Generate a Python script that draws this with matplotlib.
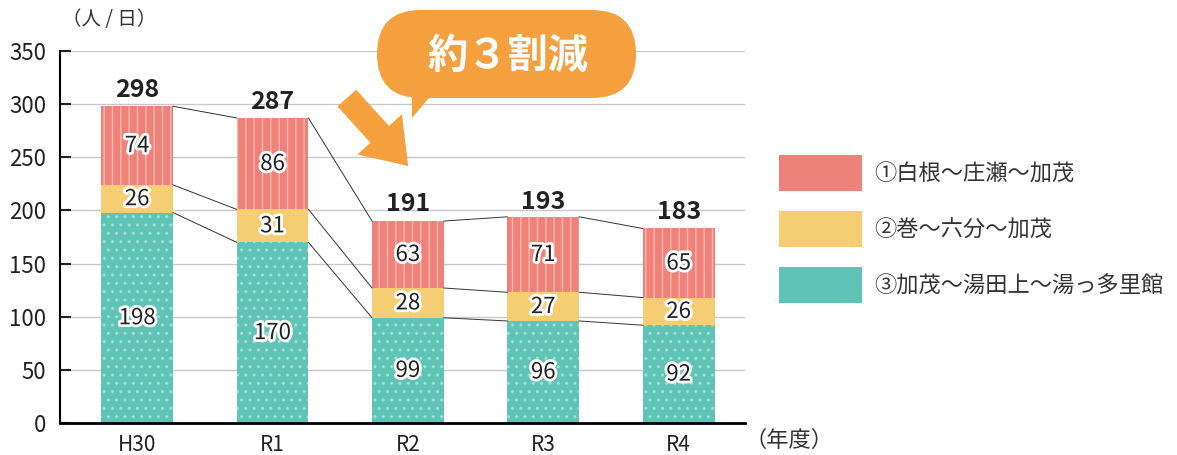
import numpy as np
import matplotlib.pyplot as plt
import matplotlib.patheffects as pe
from matplotlib.patches import Rectangle, FancyBboxPatch, FancyArrowPatch, Polygon

plt.rcParams['font.family'] = ['Noto Sans CJK JP', 'DejaVu Sans']
plt.rcParams['hatch.linewidth'] = 1.0

# data
years = ["H30", "R1", "R2", "R3", "R4"]
route3 = [198, 170, 99, 96, 92]   # ③加茂～湯田上～湯っ多里館
route2 = [26, 31, 28, 27, 26]     # ②巻～六分～加茂
route1 = [74, 86, 63, 71, 65]     # ①白根～庄瀬～加茂
totals = [298, 287, 191, 193, 183]
legend_labels = ["①白根～庄瀬～加茂", "②巻～六分～加茂", "③加茂～湯田上～湯っ多里館"]

c_pink = "#EE827A"
c_yellow = "#F5CE74"
c_teal = "#5FC4B5"
c_orange = "#F5A03E"

fig = plt.figure(figsize=(11.77, 4.55), dpi=100)
ax = fig.add_axes([60 / 1177, 32 / 455, 685 / 1177, 372 / 455])

x = np.arange(len(years))
w = 0.53
r3 = np.array(route3)
r2 = np.array(route2)
r1 = np.array(route1)

ax.bar(x, r3, w, color=c_teal, edgecolor="#A3DFD5", lw=0, hatch="..", zorder=2)
ax.bar(x, r2, w, bottom=r3, color=c_yellow, lw=0, zorder=2)
ax.bar(x, r1, w, bottom=r3 + r2, color=c_pink, edgecolor="#F7B7B1", lw=0, hatch="||", zorder=2)

# connecting lines between bars
for level in [r3, r3 + r2, r3 + r2 + r1]:
    for i in range(len(x) - 1):
        ax.plot([x[i] + w / 2, x[i + 1] - w / 2], [level[i], level[i + 1]],
                color="#333333", lw=0.7, zorder=3)

stroke = [pe.withStroke(linewidth=4, foreground="white")]
for i in range(len(x)):
    ax.text(x[i], r3[i] / 2, str(r3[i]), ha="center", va="center", fontsize=16,
            color="#222222", path_effects=stroke, zorder=4)
    ax.text(x[i], r3[i] + r2[i] / 2, str(r2[i]), ha="center", va="center", fontsize=16,
            color="#222222", path_effects=stroke, zorder=4)
    ax.text(x[i], r3[i] + r2[i] + r1[i] / 2, str(r1[i]), ha="center", va="center", fontsize=16,
            color="#222222", path_effects=stroke, zorder=4)
    ax.annotate(str(totals[i]), (x[i], totals[i]), xytext=(0, 3), textcoords="offset points",
                ha="center", va="bottom", fontsize=18, fontweight="bold", color="#222222")

ax.set_xlim(-0.57, 4.49)
ax.set_ylim(0, 350)
ax.set_yticks(range(0, 351, 50))
ax.set_xticks(x)
ax.set_xticklabels(years)
ax.yaxis.grid(True, color="#C8C8C8", lw=1)
ax.set_axisbelow(True)
ax.tick_params(axis="y", direction="in", length=8, width=1.5, labelsize=16, pad=10, colors="#222222")
ax.tick_params(axis="x", length=0, labelsize=15, pad=8, colors="#222222")
for s in ["top", "right"]:
    ax.spines[s].set_visible(False)
ax.spines["left"].set_linewidth(1.5)
ax.spines["bottom"].set_linewidth(2)

fig.text(62 / 1177, 1 - 20 / 455, "（人 / 日）", fontsize=14, color="#333333", va="center")
fig.text(745 / 1177, 1 - 440 / 455, "（年度）", fontsize=16, color="#333333", va="center")

# overlay in pixel coordinates for legend and callout
ov = fig.add_axes([0, 0, 1, 1], zorder=5)
ov.set_xlim(0, 1177)
ov.set_ylim(455, 0)
ov.axis("off")

sw = [dict(color=c_pink, edgecolor="#F7B7B1", hatch="||"),
      dict(color=c_yellow),
      dict(color=c_teal, edgecolor="#A3DFD5", hatch="..")]
for k, (lab, st) in enumerate(zip(legend_labels, sw)):
    y0 = 155 + k * 56
    ov.add_patch(Rectangle((779, y0), 83, 36, lw=0, **st))
    ov.text(874, y0 + 19, lab, fontsize=16, va="center", color="#333333")

ov.add_patch(FancyBboxPatch((377, 10), 259, 88, boxstyle="round,pad=0,rounding_size=44",
                            color=c_orange, lw=0))
ov.add_patch(Polygon([[412, 92], [434, 92], [412, 118]], closed=True, color=c_orange, lw=0))
ov.text(508, 56, "約３割減", fontsize=29, fontweight="bold", color="white", ha="center", va="center")
ov.add_patch(FancyArrowPatch((345, 96), (410, 168),
                             arrowstyle="simple,head_width=2.4,head_length=1.7,tail_width=1.0",
                             mutation_scale=18, color=c_orange, lw=0))

fig.savefig("out.png", dpi=100)
